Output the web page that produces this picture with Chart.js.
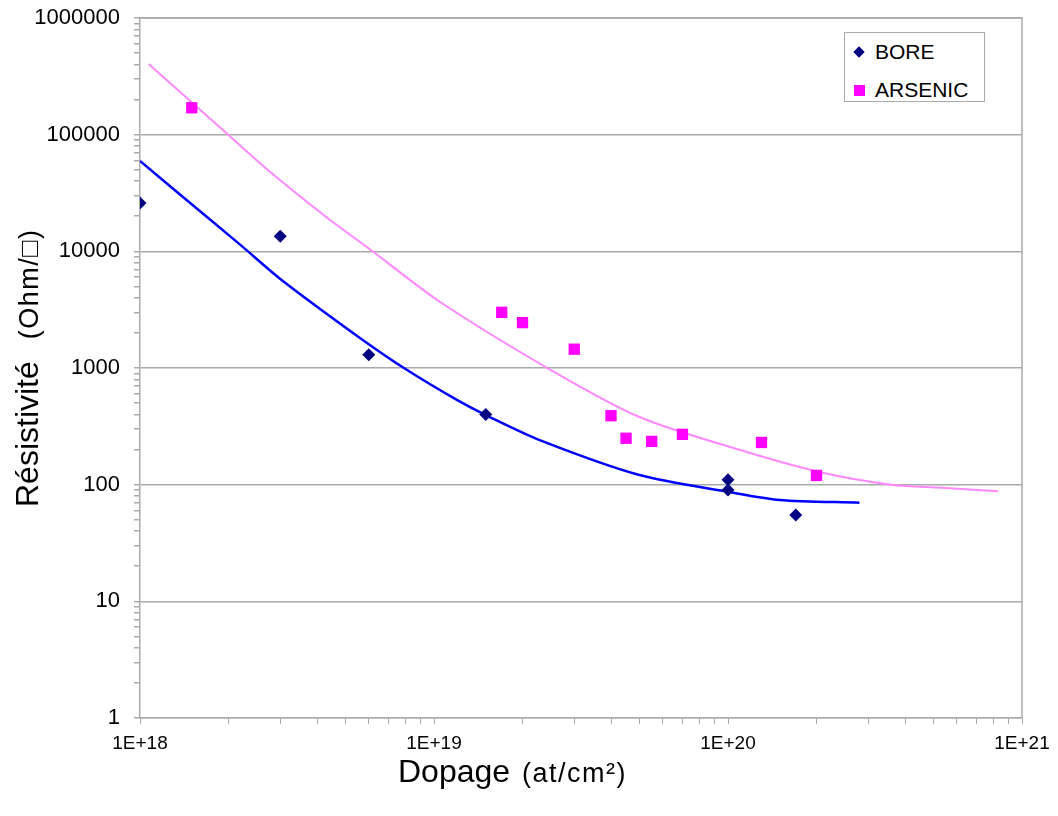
<!DOCTYPE html>
<html>
<head>
<meta charset="utf-8">
<script src="https://cdn.jsdelivr.net/npm/chart.js@4/dist/chart.umd.min.js"></script>
<style>
  body { margin: 0; background: #fff; }
  #wrap { position: relative; width: 1058px; height: 816px; }
  #legend {
    position: absolute; left: 844px; top: 32px; width: 141px; height: 70px;
    border: 1.5px solid #aaa; background: #fff; box-sizing: border-box;
    font-family: "Liberation Sans", Arial, sans-serif; font-size: 21px; color: #000;
  }
  .item { position: absolute; left: 30px; line-height: 22px; }
  .mark { position: absolute; }
</style>
</head>
<body>
<div id="wrap">
  <canvas id="chart" width="1058" height="816"></canvas>
  <div id="legend">
    <div class="mark" style="left:10px;top:15px;width:8px;height:8px;background:#000080;transform:rotate(45deg)"></div>
    <div class="item" style="top:8px">BORE</div>
    <div class="mark" style="left:9px;top:52px;width:11px;height:11px;background:#ff00ff"></div>
    <div class="item" style="top:46px">ARSENIC</div>
  </div>
</div>
<script>
var boreX = [1e18, 3e18, 6e18, 1.5e19, 1e20, 1e20, 1.7e20];
var boreY = [26000, 13500, 1300, 400, 110, 90, 55];
var arsenicX = [1.5e18, 1.7e19, 2e19, 3e19, 4e19, 4.5e19, 5.5e19, 7e19, 1.3e20, 2e20];
var arsenicY = [170000, 3000, 2450, 1450, 390, 250, 235, 270, 230, 120];

// trend curves, sampled along the drawn lines
var boreFitX = [1e18, 1.4e18, 2.2e18, 3e18, 5.6e18, 8.1e18, 1.2e19, 1.5e19, 2.3e19, 5e19, 1e20, 1.5e20, 2.8e20];
var boreFitY = [59500, 29200, 11300, 5800, 1810, 960, 530, 395, 240, 121, 87, 74, 70];
var arsenicFitX = [1.07e18, 2e18, 2.8e18, 4.3e18, 6.1e18, 1.05e19, 2.5e19, 5e19, 1.1e20, 2.06e20, 3.6e20, 5.3e20, 8.3e20];
var arsenicFitY = [403000, 99300, 46900, 19700, 10260, 3680, 960, 380, 198, 128, 100, 94, 88];

// axis ticks
var xDecades = [1e18, 1e19, 1e20, 1e21];
var xTickLabels = ["1E+18", "1E+19", "1E+20", "1E+21"];
var yDecades = [1, 10, 100, 1000, 10000, 100000, 1000000];
var yTickLabels = ["1", "10", "100", "1000", "10000", "100000", "1000000"];

var FONT = '"Liberation Sans", Arial, sans-serif';

function toPoints(xs, ys) {
    return xs.map(function(x, i) { return {x: x, y: ys[i]}; });
}

// decades plus 2..9 minor steps
function logTicks(decades) {
    var ticks = [];
    for (var i = 0; i < decades.length; i++) {
        ticks.push({value: decades[i], major: true});
        if (i < decades.length - 1) {
            for (var m = 2; m < 10; m++) ticks.push({value: decades[i] * m, major: false});
        }
    }
    return ticks;
}

function labelFor(value, decades, labels) {
    for (var i = 0; i < decades.length; i++) {
        if (Math.abs(value / decades[i] - 1) < 1e-6) return labels[i];
    }
    return "";
}

var frameAndTitles = {
    id: "frameAndTitles",
    beforeDatasetsDraw: function(chart) {
        var ctx = chart.ctx, a = chart.chartArea;
        ctx.save();
        ctx.strokeStyle = "#aaa";
        ctx.lineWidth = 1.5;
        ctx.beginPath();
        ctx.moveTo(a.left, a.top);
        ctx.lineTo(a.right, a.top);
        ctx.lineTo(a.right, a.bottom);
        ctx.stroke();
        ctx.restore();
    },
    afterDraw: function(chart) {
        var ctx = chart.ctx;
        ctx.save();
        ctx.fillStyle = "#000";
        ctx.textBaseline = "alphabetic";
        ctx.textAlign = "left";
        // x title
        ctx.font = "32px " + FONT;
        ctx.fillText("Dopage", 398, 782);
        var w = ctx.measureText("Dopage").width;
        ctx.font = "27px " + FONT;
        ctx.letterSpacing = "1.5px";
        ctx.fillText("(at/cm\u00b2)", 398 + w + 12, 782);
        ctx.letterSpacing = "0px";
        // y title
        ctx.translate(38, 507);
        ctx.rotate(-Math.PI / 2);
        ctx.font = "32px " + FONT;
        ctx.fillText("R\u00e9sistivit\u00e9", 0, 0);
        var w2 = ctx.measureText("R\u00e9sistivit\u00e9").width;
        ctx.font = "27px " + FONT;
        ctx.letterSpacing = "1.5px";
        ctx.fillText("(Ohm/\u25a1)", w2 + 22, 0);
        ctx.restore();
    }
};

var chart = new Chart(document.getElementById("chart"), {
    type: "scatter",
    data: {
        datasets: [
            {
                label: "BORE", data: toPoints(boreX, boreY), order: 0,
                pointStyle: "rectRot", pointRadius: 6.5, backgroundColor: "#000080", borderColor: "#000080", borderWidth: 0
            },
            {
                label: "ARSENIC", data: toPoints(arsenicX, arsenicY), order: 0,
                pointStyle: "rect", pointRadius: 8, backgroundColor: "#ff00ff", borderColor: "#ff00ff", borderWidth: 0
            },
            {
                label: "BORE fit", data: toPoints(boreFitX, boreFitY), order: 1, showLine: true,
                pointRadius: 0, borderColor: "#0000ff", borderWidth: 2.5, tension: 0.3
            },
            {
                label: "ARSENIC fit", data: toPoints(arsenicFitX, arsenicFitY), order: 1, showLine: true,
                pointRadius: 0, borderColor: "#ff88ff", borderWidth: 2, tension: 0.3
            }
        ]
    },
    options: {
        responsive: false,
        animation: false,
        layout: {padding: {left: 0, top: 18, right: 36, bottom: 0}},
        plugins: {legend: {display: false}, tooltip: {enabled: false}},
        scales: {
            x: {
                type: "logarithmic", min: 1e18, max: 1e21,
                afterBuildTicks: function(s) { s.ticks = logTicks(xDecades); },
                afterFit: function(s) { s.height = 98; s.paddingLeft = 0; s.paddingRight = 0; },
                border: {color: "#aaa", width: 1.5},
                grid: {drawOnChartArea: false, tickColor: "#aaa", tickLength: 6},
                ticks: {
                    autoSkip: false, maxRotation: 0, padding: 8, color: "#000",
                    font: {family: FONT, size: 19},
                    callback: function(v) { return labelFor(v, xDecades, xTickLabels); }
                }
            },
            y: {
                type: "logarithmic", min: 1, max: 1000000,
                afterBuildTicks: function(s) { s.ticks = logTicks(yDecades); },
                afterFit: function(s) { s.width = 140; s.paddingTop = 0; s.paddingBottom = 0; },
                border: {color: "#aaa", width: 1.5},
                grid: {
                    lineWidth: 1.5, tickColor: "#aaa", tickLength: 6,
                    color: function(c) { return labelFor(c.tick.value, yDecades, yTickLabels) ? "#aaa" : "rgba(0,0,0,0)"; }
                },
                ticks: {
                    autoSkip: false, padding: 14, color: "#000",
                    font: {family: FONT, size: 22},
                    callback: function(v) { return labelFor(v, yDecades, yTickLabels); }
                }
            }
        }
    },
    plugins: [frameAndTitles]
});
</script>
</body>
</html>
